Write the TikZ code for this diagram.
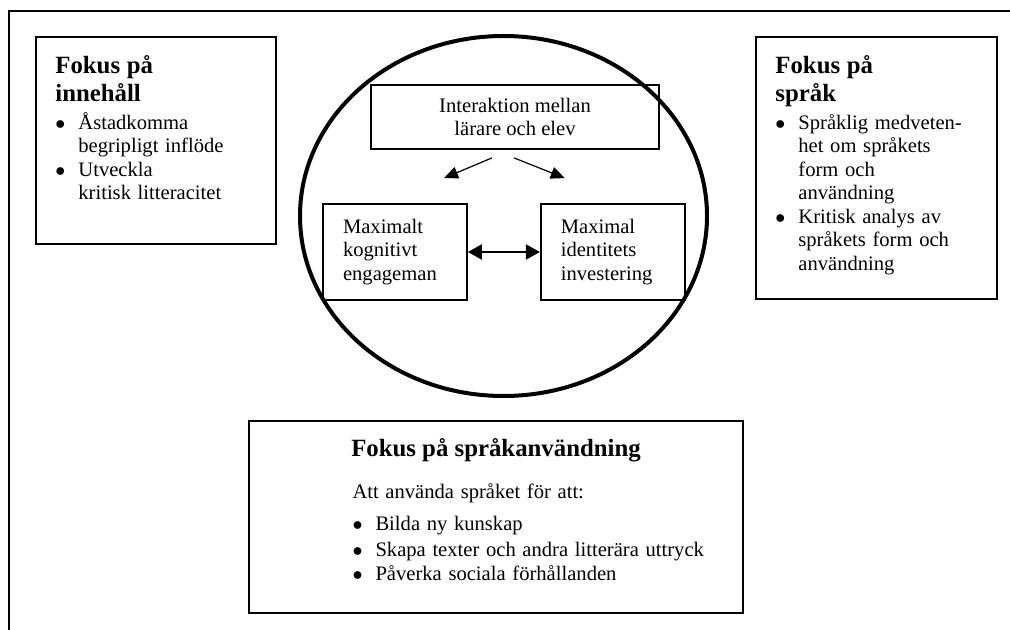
\documentclass[tikz,border=0pt]{standalone}
\usepackage{fontspec}
\setmainfont{Liberation Serif}
\usetikzlibrary{arrows.meta,shapes.geometric,positioning}

\newcommand{\brodtext}{\fontsize{10.3}{11.75}\selectfont}
\newcommand{\rubrik}{\fontsize{12.4}{14}\selectfont\bfseries}
\newcommand{\punkt}{\makebox[11.5pt][l]{$\bullet$}}
\newcommand{\indrag}{\hspace*{11.5pt}}

\begin{document}
\begin{tikzpicture}[
    x=0.5pt, y=-0.5pt,
    node distance=36pt,
    ruta/.style={rectangle, draw, line width=0.9pt, inner sep=0pt},
    innerruta/.style={rectangle, draw, line width=0.9pt, minimum width=72pt, minimum height=48pt, text width=52pt, inner xsep=10pt, align=left, font=\brodtext},
    textblock/.style={inner sep=0pt, anchor=north west, text width=110pt, align=left},
    pil/.style={-{Triangle[length=7pt, width=6pt]}, line width=0.6pt},
    dubbelpil/.style={{Triangle[length=7pt, width=7.5pt]}-{Triangle[length=7pt, width=7.5pt]}, line width=1pt}
]
    \useasboundingbox (0,0) rectangle (1010,630);

    % yttre ram, bara övre och vänstra kanten syns
    \draw[line width=1pt] (9,630) -- (9,11) -- (1010,11);

    % vänster ruta
    \node[ruta, anchor=north west, minimum width=120pt, minimum height=103.5pt] (innehall) at (35,36) {};
    \node[textblock] (innehalltext) at ([shift={(20,19)}]innehall.north west) {%
        {\rubrik Fokus på\\ innehåll\par}\vspace{2.25pt}
        {\brodtext \punkt Åstadkomma\\ \indrag begripligt inflöde\\ \punkt Utveckla\\ \indrag kritisk litteracitet\par}};

    % höger ruta
    \node[ruta, anchor=north west, minimum width=120.5pt, minimum height=131pt] (sprak) at (755,36) {};
    \node[textblock] (spraktext) at ([shift={(20,19)}]sprak.north west) {%
        {\rubrik Fokus på\\ språk\par}\vspace{2.25pt}
        {\brodtext \punkt Språklig medveten-\\ \indrag het om språkets\\ \indrag form och\\ \indrag användning\\
        \punkt Kritisk analys av\\ \indrag språkets form och\\ \indrag användning\par}};

    % cirkeln i mitten
    \node[ellipse, draw, line width=2pt, minimum width=203.5pt, minimum height=180pt, inner sep=0pt] (dialog) at (503.5,216) {};
    \node[ruta, minimum width=144pt, minimum height=32pt, align=center, font=\brodtext] (interaktion) at (515,117) {Interaktion mellan\\ lärare och elev};
    \node[innerruta] (kognitiv) at (395,252) {Maximalt\\ kognitivt\\ engageman};
    \node[innerruta, right=of kognitiv] (identitet) {Maximal\\ identitets\\ investering};

    \coordinate (pilA1) at ([shift={(-23,8)}]interaktion.south);
    \coordinate (pilA2) at ([shift={(49,-25)}]kognitiv.north);
    \coordinate (pilB1) at ([shift={(-1,8)}]interaktion.south);
    \coordinate (pilB2) at ([shift={(-48,-25)}]identitet.north);
    \draw[pil] (pilA1) -- (pilA2);
    \draw[pil] (pilB1) -- (pilB2);
    \draw[dubbelpil] (kognitiv) -- (identitet);

    % nedre ruta
    \node[ruta, minimum width=247pt, minimum height=96pt] (anvandning) at (496,517) {};
    \node[font=\rubrik, anchor=base, inner sep=0pt] (anvrubrik) at ([yshift=-18pt]anvandning.north) {Fokus på språkanvändning};
    \node[textblock, text width=200pt] (anvtext) at ([shift={(104,63)}]anvandning.north west) {%
        \fontsize{10.3}{13.25}\selectfont Att använda språket för att:\\[2.75pt]
        \punkt Bilda ny kunskap\\ \punkt Skapa texter och andra litterära uttryck\\ \punkt Påverka sociala förhållanden};
\end{tikzpicture}
\end{document}
